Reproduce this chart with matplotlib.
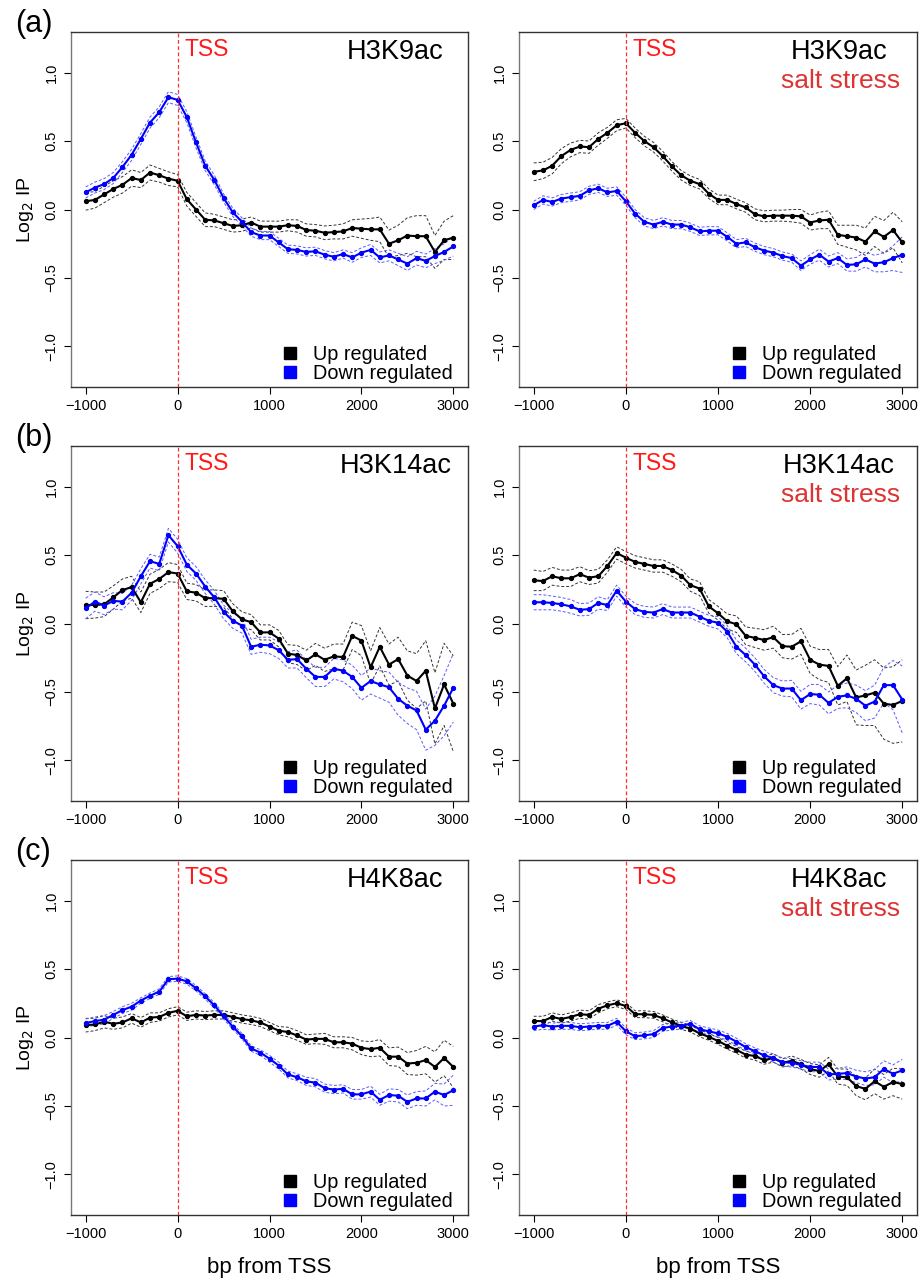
import matplotlib
matplotlib.use("Agg")
import matplotlib.pyplot as plt
from matplotlib.lines import Line2D
import numpy as np

plt.rcParams['font.family'] = ['Liberation Sans', 'DejaVu Sans']

# bins (bp from TSS)
bp = np.arange(-1000, 3001, 100)

# ---- (a) H3K9ac ----
a_up = [0.06, 0.07, 0.11, 0.15, 0.18, 0.23, 0.215, 0.27, 0.25, 0.225, 0.21,
        0.075, 0.0, -0.075, -0.08, -0.10, -0.12, -0.115, -0.095, -0.125, -0.125,
        -0.125, -0.115, -0.12, -0.15, -0.155, -0.17, -0.165, -0.16, -0.135, -0.14,
        -0.145, -0.145, -0.25, -0.225, -0.19, -0.195, -0.195, -0.31, -0.225, -0.205]
a_up_se = [0.065, 0.06, 0.06, 0.06, 0.06, 0.06, 0.055, 0.055, 0.05, 0.05, 0.045,
           0.05, 0.05, 0.05, 0.045, 0.045, 0.045, 0.045, 0.04, 0.04, 0.04,
           0.04, 0.04, 0.045, 0.045, 0.045, 0.05, 0.05, 0.055, 0.06, 0.07,
           0.08, 0.09, 0.1, 0.11, 0.13, 0.15, 0.15, 0.12, 0.14, 0.16]
a_down = [0.125, 0.16, 0.185, 0.23, 0.31, 0.40, 0.515, 0.635, 0.71, 0.82, 0.80,
          0.675, 0.49, 0.32, 0.215, 0.085, -0.02, -0.09, -0.165, -0.19, -0.19,
          -0.24, -0.29, -0.295, -0.31, -0.305, -0.33, -0.345, -0.325, -0.35, -0.315,
          -0.295, -0.35, -0.335, -0.365, -0.395, -0.355, -0.375, -0.34, -0.31, -0.27]
a_down_se = [0.04, 0.04, 0.04, 0.04, 0.04, 0.04, 0.04, 0.04, 0.04, 0.04, 0.04,
             0.04, 0.04, 0.035, 0.035, 0.03, 0.03, 0.03, 0.03, 0.03, 0.03,
             0.03, 0.03, 0.03, 0.03, 0.03, 0.03, 0.03, 0.03, 0.035, 0.035,
             0.04, 0.04, 0.04, 0.045, 0.05, 0.05, 0.05, 0.055, 0.06, 0.07]
a_salt_up = [0.275, 0.285, 0.32, 0.39, 0.435, 0.46, 0.455, 0.515, 0.56, 0.615, 0.63,
             0.56, 0.50, 0.455, 0.39, 0.315, 0.25, 0.21, 0.185, 0.115, 0.07,
             0.07, 0.04, 0.015, -0.035, -0.05, -0.045, -0.045, -0.045, -0.05, -0.095,
             -0.08, -0.075, -0.185, -0.195, -0.205, -0.235, -0.16, -0.20, -0.15, -0.24]
a_salt_up_se = [0.065, 0.06, 0.06, 0.055, 0.05, 0.045, 0.045, 0.045, 0.04, 0.04, 0.035,
                0.035, 0.035, 0.035, 0.035, 0.035, 0.035, 0.035, 0.035, 0.035, 0.035,
                0.035, 0.035, 0.035, 0.04, 0.04, 0.04, 0.04, 0.045, 0.05, 0.055,
                0.06, 0.065, 0.07, 0.08, 0.09, 0.1, 0.11, 0.12, 0.13, 0.15]
a_salt_down = [0.03, 0.07, 0.055, 0.08, 0.09, 0.10, 0.14, 0.155, 0.125, 0.135, 0.06,
               -0.03, -0.09, -0.11, -0.09, -0.11, -0.11, -0.13, -0.16, -0.155, -0.155,
               -0.20, -0.25, -0.24, -0.275, -0.30, -0.315, -0.34, -0.355, -0.41, -0.365,
               -0.33, -0.38, -0.355, -0.405, -0.40, -0.365, -0.395, -0.385, -0.355, -0.33]
a_salt_down_se = [0.03, 0.03, 0.03, 0.03, 0.03, 0.03, 0.03, 0.03, 0.03, 0.03, 0.03,
                  0.03, 0.03, 0.03, 0.03, 0.03, 0.03, 0.03, 0.03, 0.03, 0.03,
                  0.03, 0.03, 0.03, 0.03, 0.03, 0.03, 0.03, 0.03, 0.035, 0.035,
                  0.04, 0.04, 0.04, 0.045, 0.05, 0.055, 0.06, 0.07, 0.09, 0.13]

# ---- (b) H3K14ac ----
b_up = [0.135, 0.135, 0.14, 0.19, 0.245, 0.265, 0.155, 0.29, 0.325, 0.375, 0.365,
        0.235, 0.225, 0.185, 0.185, 0.18, 0.09, 0.03, 0.01, -0.065, -0.065,
        -0.11, -0.22, -0.23, -0.27, -0.225, -0.265, -0.24, -0.245, -0.09, -0.125,
        -0.32, -0.17, -0.30, -0.26, -0.38, -0.42, -0.345, -0.62, -0.445, -0.585]
b_up_se = [0.1, 0.095, 0.09, 0.085, 0.08, 0.08, 0.075, 0.07, 0.07, 0.07, 0.065,
           0.06, 0.06, 0.06, 0.06, 0.06, 0.055, 0.055, 0.055, 0.055, 0.055,
           0.06, 0.065, 0.07, 0.075, 0.08, 0.085, 0.09, 0.095, 0.1, 0.11,
           0.12, 0.14, 0.15, 0.16, 0.18, 0.2, 0.22, 0.26, 0.3, 0.35]
b_down = [0.11, 0.16, 0.13, 0.165, 0.16, 0.225, 0.345, 0.455, 0.435, 0.645, 0.565,
          0.43, 0.365, 0.27, 0.19, 0.085, 0.02, -0.015, -0.17, -0.155, -0.16,
          -0.195, -0.265, -0.26, -0.33, -0.39, -0.39, -0.33, -0.345, -0.39, -0.47,
          -0.42, -0.445, -0.465, -0.55, -0.60, -0.635, -0.775, -0.71, -0.60, -0.47]
b_down_se = [0.075, 0.07, 0.065, 0.06, 0.06, 0.055, 0.055, 0.05, 0.05, 0.05, 0.05,
             0.05, 0.05, 0.05, 0.05, 0.05, 0.055, 0.055, 0.055, 0.055, 0.06,
             0.06, 0.06, 0.065, 0.065, 0.07, 0.07, 0.075, 0.08, 0.085, 0.09,
             0.095, 0.1, 0.11, 0.12, 0.13, 0.14, 0.15, 0.18, 0.22, 0.25]
b_salt_up = [0.315, 0.31, 0.345, 0.33, 0.33, 0.36, 0.335, 0.345, 0.42, 0.515, 0.48,
             0.45, 0.435, 0.42, 0.42, 0.39, 0.35, 0.28, 0.255, 0.125, 0.075,
             0.015, -0.005, -0.09, -0.105, -0.12, -0.10, -0.165, -0.17, -0.13, -0.265,
             -0.30, -0.31, -0.455, -0.40, -0.54, -0.525, -0.505, -0.585, -0.595, -0.565]
b_salt_up_se = [0.075, 0.07, 0.065, 0.06, 0.06, 0.055, 0.05, 0.05, 0.045, 0.045, 0.045,
                0.045, 0.045, 0.045, 0.045, 0.045, 0.045, 0.045, 0.05, 0.05, 0.05,
                0.055, 0.06, 0.065, 0.07, 0.075, 0.08, 0.085, 0.09, 0.095, 0.1,
                0.11, 0.12, 0.14, 0.17, 0.2, 0.22, 0.24, 0.26, 0.28, 0.3]
b_salt_down = [0.155, 0.155, 0.15, 0.14, 0.125, 0.10, 0.105, 0.15, 0.135, 0.24, 0.16,
               0.105, 0.085, 0.08, 0.105, 0.08, 0.08, 0.08, 0.05, 0.02, 0.005,
               -0.06, -0.17, -0.23, -0.30, -0.385, -0.45, -0.475, -0.475, -0.56, -0.515,
               -0.52, -0.58, -0.535, -0.525, -0.55, -0.60, -0.57, -0.45, -0.45, -0.555]
b_salt_down_se = [0.055, 0.055, 0.05, 0.05, 0.05, 0.045, 0.045, 0.045, 0.04, 0.04, 0.04,
                  0.04, 0.04, 0.04, 0.04, 0.04, 0.04, 0.04, 0.04, 0.04, 0.045,
                  0.045, 0.05, 0.05, 0.05, 0.05, 0.055, 0.055, 0.06, 0.065, 0.07,
                  0.075, 0.08, 0.085, 0.09, 0.1, 0.11, 0.12, 0.13, 0.18, 0.245]

# ---- (c) H4K8ac ----
c_up = [0.09, 0.095, 0.115, 0.10, 0.11, 0.14, 0.11, 0.145, 0.15, 0.18, 0.195,
        0.155, 0.165, 0.16, 0.165, 0.165, 0.15, 0.135, 0.125, 0.11, 0.08,
        0.05, 0.04, 0.015, -0.015, -0.01, -0.01, -0.035, -0.035, -0.045, -0.075,
        -0.085, -0.075, -0.14, -0.14, -0.19, -0.185, -0.165, -0.215, -0.15, -0.215]
c_up_se = [0.05, 0.045, 0.045, 0.04, 0.04, 0.035, 0.035, 0.035, 0.03, 0.03, 0.03,
           0.03, 0.03, 0.03, 0.03, 0.03, 0.03, 0.03, 0.03, 0.03, 0.03,
           0.03, 0.035, 0.035, 0.035, 0.035, 0.04, 0.04, 0.04, 0.045, 0.05,
           0.055, 0.06, 0.065, 0.07, 0.08, 0.09, 0.1, 0.11, 0.13, 0.15]
c_down = [0.105, 0.12, 0.13, 0.165, 0.20, 0.225, 0.27, 0.305, 0.335, 0.425, 0.43,
          0.41, 0.36, 0.30, 0.235, 0.155, 0.08, 0.01, -0.08, -0.11, -0.155,
          -0.205, -0.27, -0.29, -0.32, -0.33, -0.37, -0.38, -0.375, -0.415, -0.415,
          -0.395, -0.455, -0.42, -0.425, -0.47, -0.445, -0.445, -0.395, -0.42, -0.385]
c_down_se = [0.03, 0.03, 0.03, 0.025, 0.025, 0.025, 0.02, 0.02, 0.02, 0.02, 0.02,
             0.02, 0.02, 0.02, 0.02, 0.02, 0.02, 0.02, 0.02, 0.02, 0.025,
             0.025, 0.025, 0.025, 0.03, 0.03, 0.03, 0.03, 0.03, 0.035, 0.035,
             0.04, 0.04, 0.045, 0.045, 0.05, 0.05, 0.055, 0.06, 0.08, 0.11]
c_salt_up = [0.12, 0.12, 0.15, 0.135, 0.15, 0.17, 0.165, 0.21, 0.235, 0.25, 0.23,
             0.17, 0.17, 0.165, 0.14, 0.11, 0.085, 0.065, 0.03, 0.005, -0.025,
             -0.06, -0.09, -0.125, -0.135, -0.165, -0.15, -0.185, -0.17, -0.195, -0.23,
             -0.245, -0.195, -0.285, -0.29, -0.355, -0.375, -0.32, -0.36, -0.325, -0.34]
c_salt_up_se = [0.035, 0.035, 0.03, 0.03, 0.03, 0.03, 0.03, 0.03, 0.025, 0.025, 0.025,
                0.025, 0.025, 0.025, 0.025, 0.025, 0.025, 0.025, 0.025, 0.025, 0.025,
                0.025, 0.025, 0.025, 0.03, 0.03, 0.03, 0.03, 0.035, 0.035, 0.04,
                0.045, 0.05, 0.055, 0.06, 0.07, 0.08, 0.09, 0.09, 0.1, 0.11]
c_salt_down = [0.08, 0.09, 0.08, 0.085, 0.085, 0.075, 0.08, 0.085, 0.085, 0.115, 0.045,
               0.01, 0.015, 0.025, 0.07, 0.08, 0.085, 0.10, 0.06, 0.045, 0.03,
               0.005, -0.03, -0.07, -0.10, -0.13, -0.15, -0.18, -0.185, -0.20, -0.215,
               -0.215, -0.27, -0.265, -0.26, -0.285, -0.30, -0.29, -0.23, -0.265, -0.24]
c_salt_down_se = [0.03, 0.03, 0.025, 0.025, 0.025, 0.025, 0.025, 0.025, 0.025, 0.025, 0.025,
                  0.025, 0.025, 0.025, 0.025, 0.025, 0.025, 0.025, 0.025, 0.025, 0.025,
                  0.025, 0.025, 0.025, 0.025, 0.03, 0.03, 0.03, 0.03, 0.03, 0.035,
                  0.035, 0.04, 0.04, 0.045, 0.045, 0.05, 0.055, 0.06, 0.065, 0.08]

panels = [
    ["(a)", "H3K9ac", (a_up, a_up_se, a_down, a_down_se),
     (a_salt_up, a_salt_up_se, a_salt_down, a_salt_down_se)],
    ["(b)", "H3K14ac", (b_up, b_up_se, b_down, b_down_se),
     (b_salt_up, b_salt_up_se, b_salt_down, b_salt_down_se)],
    ["(c)", "H4K8ac", (c_up, c_up_se, c_down, c_down_se),
     (c_salt_up, c_salt_up_se, c_salt_down, c_salt_down_se)],
]

W, H = 921, 1279
fig = plt.figure(figsize=(W / 100, H / 100), dpi=100)

lefts = [71, 519]
widths = [397, 398]
tops = [32, 446, 860]
ax_h = 355

up_col = "black"
up_band = "#333333"
down_col = "#0000ff"
down_band = "#5a5aff"


def draw(ax, data, mark, salt):
    up, up_se, down, down_se = [np.array(d) for d in data]
    for m, se, col, bcol in [(up, up_se, up_col, up_band), (down, down_se, down_col, down_band)]:
        ax.plot(bp, m + se, ls=(0, (3, 2)), color=bcol, lw=0.7)
        ax.plot(bp, m - se, ls=(0, (3, 2)), color=bcol, lw=0.7)
    ax.plot(bp, up, color=up_col, lw=1.5, marker="o", ms=2.8)
    ax.plot(bp, down, color=down_col, lw=1.5, marker="o", ms=2.8)
    ax.axvline(0, color="#ff3030", ls=(0, (3, 2)), lw=0.9)
    ax.set_xlim(-1160, 3160)
    ax.set_ylim(-1.296, 1.296)
    ax.set_xticks([-1000, 0, 1000, 2000, 3000])
    ax.set_yticks([-1.0, -0.5, 0.0, 0.5, 1.0])
    ax.set_yticklabels(["\u22121.0", "\u22120.5", "0.0", "0.5", "1.0"], rotation=90, va="center")
    ax.tick_params(labelsize=10.5, length=5, width=0.8, direction="out", pad=4)
    for s in ax.spines.values():
        s.set_color("#333333")
        s.set_linewidth(1)
    ax.spines["left"].set_color("#777777")
    ax.text(70, 1.165, "TSS", color="#ff1a1a", fontsize=16.5, va="center", ha="left")
    if salt:
        ax.text(2310, 1.15, mark, fontsize=19.5, va="center", ha="center")
        ax.text(2330, 0.935, "salt stress", color="#dd3333", fontsize=19, va="center", ha="center")
    else:
        ax.text(2370, 1.15, mark, fontsize=19.5, va="center", ha="center")
    handles = [Line2D([], [], ls="none", marker="s", ms=9, color=up_col),
               Line2D([], [], ls="none", marker="s", ms=9, color=down_col)]
    ax.legend(handles, ["Up regulated", "Down regulated"], loc="lower right",
              bbox_to_anchor=(0.962, 0.012), frameon=False, fontsize=14.3,
              handlelength=0.8, handletextpad=0.75, labelspacing=0.0,
              borderaxespad=0, borderpad=0)


for r, (lab, mark, d_norm, d_salt) in enumerate(panels):
    y0 = 1 - (tops[r] + ax_h) / H
    for c in range(2):
        ax = fig.add_axes([lefts[c] / W, y0, widths[c] / W, ax_h / H])
        draw(ax, d_norm if c == 0 else d_salt, mark, c == 1)
        if c == 0:
            ax.set_ylabel("Log$_2$ IP", fontsize=14, labelpad=6)
        if r == 2:
            ax.set_xlabel("bp from TSS", fontsize=16, labelpad=11)
    fig.text(15 / W, 1 - (tops[r] - 8) / H, lab, fontsize=22, va="center", ha="left")

fig.savefig("out.png", dpi=100)
